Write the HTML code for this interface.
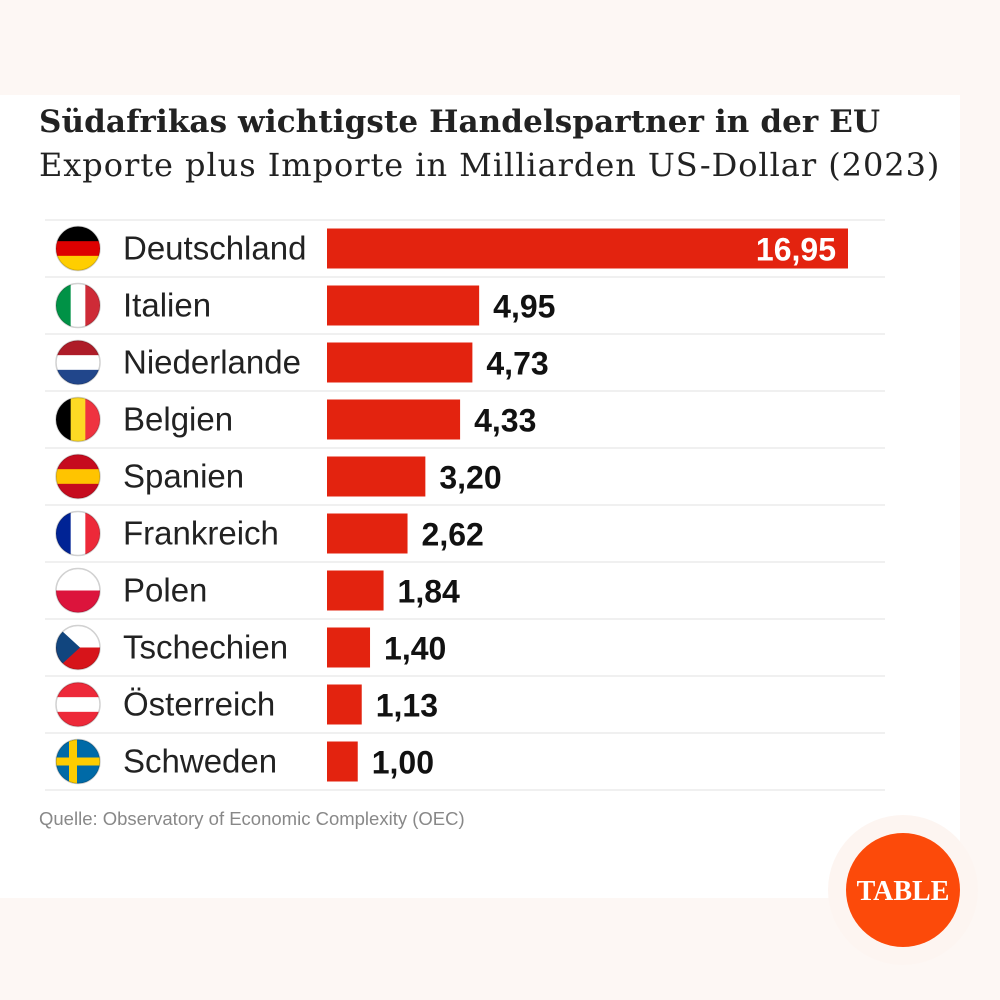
<!DOCTYPE html>
<html><head><meta charset="utf-8"><style>
html,body{margin:0;padding:0;background:#fdf7f4;}
#wrap{position:relative;width:1000px;height:1000px;overflow:hidden;background:#fdf7f4;font-family:"Liberation Sans",sans-serif;}
#panel{position:absolute;left:0;top:95px;width:960px;height:803px;background:#fff;}
.t1{position:absolute;left:39px;top:104px;font-family:"DejaVu Serif","Liberation Serif",serif;font-weight:bold;font-size:31px;color:#222;white-space:nowrap;letter-spacing:0.1px}
.t2{position:absolute;left:39px;top:146px;font-family:"DejaVu Serif","Liberation Serif",serif;font-size:32px;color:#222;white-space:nowrap;letter-spacing:0.95px}
.src{position:absolute;left:39px;top:808px;font-size:18.5px;color:#888;}
</style></head><body>
<div id="wrap">
<div id="panel"></div>
<div class="t1">Südafrikas wichtigste Handelspartner in der EU</div>
<div class="t2">Exporte plus Importe in Milliarden US-Dollar (2023)</div>
<svg id="chart" width="1000" height="1000" style="position:absolute;left:0;top:0"></svg>
<div class="src">Quelle: Observatory of Economic Complexity (OEC)</div>
</div>
<script>
const categories=["Deutschland","Italien","Niederlande","Belgien","Spanien","Frankreich","Polen","Tschechien","Österreich","Schweden"];
const values=[16.95,4.95,4.73,4.33,3.20,2.62,1.84,1.40,1.13,1.00];
const valueLabels=["16,95","4,95","4,73","4,33","3,20","2,62","1,84","1,40","1,13","1,00"];
const flags=[["h","#000","#dd0000","#ffce00"],["v","#009246","#fff","#ce2b37"],["h","#ae1c28","#fff","#21468b"],["v","#000","#fdda24","#ef3340"],["h","#c60b1e","#ffc400","#c60b1e"],["v","#002395","#fff","#ed2939"],["h2","#fff","#dc143c"],["cz"],["h","#ed2939","#fff","#ed2939"],["se"]];
const NS="http://www.w3.org/2000/svg";
const svg=document.getElementById('chart');
const x0=327,scale=521/16.95,top0=220,pitch=57,barH=40;
const xs=v=>v*scale, yc=i=>top0+pitch*i+pitch/2;
function el(t,a){const e=document.createElementNS(NS,t);for(const k in a)e.setAttribute(k,a[k]);svg.appendChild(e);return e;}
const defs=el('defs',{});
for(let i=0;i<=categories.length;i++){const l=el('line',{x1:45,x2:885,y1:top0+pitch*i,y2:top0+pitch*i,stroke:'#e8e8e8','stroke-width':1.2});

}
categories.forEach((c,i)=>{
 const cy=yc(i),cx=78,r=22;
 const cp=document.createElementNS(NS,'clipPath');cp.id='c'+i;const cc=document.createElementNS(NS,'circle');cc.setAttribute('cx',cx);cc.setAttribute('cy',cy);cc.setAttribute('r',r);cp.appendChild(cc);defs.appendChild(cp);
 const g=el('g',{'clip-path':'url(#c'+i+')'});
 
 
 const f=flags[i];const add=(a)=>{const e=document.createElementNS(NS,'rect');for(const k in a)e.setAttribute(k,a[k]);g.appendChild(e);};
 if(f[0]=='h'){for(let k=0;k<3;k++)add({x:cx-r,y:cy-r+k*2*r/3,width:2*r,height:2*r/3+0.5,fill:f[k+1]});}
 else if(f[0]=='v'){for(let k=0;k<3;k++)add({x:cx-r+k*2*r/3,y:cy-r,width:2*r/3+0.5,height:2*r,fill:f[k+1]});}
 else if(f[0]=='h2'){add({x:cx-r,y:cy-r,width:2*r,height:r,fill:f[1]});add({x:cx-r,y:cy,width:2*r,height:r,fill:f[2]});}
 else if(f[0]=='cz'){add({x:cx-r,y:cy-r,width:2*r,height:r,fill:'#fff'});add({x:cx-r,y:cy,width:2*r,height:r,fill:'#d7141a'});const p=document.createElementNS(NS,'polygon');p.setAttribute('points',`${cx-r},${cy-r} ${cx+2},${cy} ${cx-r},${cy+r}`);p.setAttribute('fill','#11457e');g.appendChild(p);}
 else if(f[0]=='se'){add({x:cx-r,y:cy-r,width:2*r,height:2*r,fill:'#006aa7'});add({x:cx-r,y:cy-4,width:2*r,height:8,fill:'#fecc00'});add({x:cx-9,y:cy-r,width:8,height:2*r,fill:'#fecc00'});}
 const sh=el('circle',{cx:cx,cy:cy,r:r,fill:'none',stroke:'rgba(0,0,0,0.18)','stroke-width':1.5});
 
 
 const t=el('text',{x:123,y:cy+11,'font-size':33,fill:'#222','font-family':'Liberation Sans, sans-serif'});t.textContent=c;
 
 
 const w=xs(values[i]);
 const b=el('rect',{x:x0,y:cy-barH/2,width:w,height:barH,fill:'#e3230f'});
 
 
 const inside=w>300;
 const v=el('text',{x:inside?x0+w-12:x0+w+14,y:cy+12,'font-size':32,'font-weight':'bold',fill:inside?'#fff':'#111','text-anchor':inside?'end':'start','font-family':'Liberation Sans, sans-serif'});v.textContent=valueLabels[i];
 
 
});
const halo=el('circle',{cx:903,cy:890,r:75,fill:'#fdf5f1'});


const logo=el('circle',{cx:903,cy:890,r:57,fill:'#fc4a0a'});


const lt=el('text',{x:903,y:900,'font-size':28,'font-weight':'bold',fill:'#fff','text-anchor':'middle','font-family':'Liberation Serif, serif'});lt.textContent='TABLE';


</script>
</body></html>
